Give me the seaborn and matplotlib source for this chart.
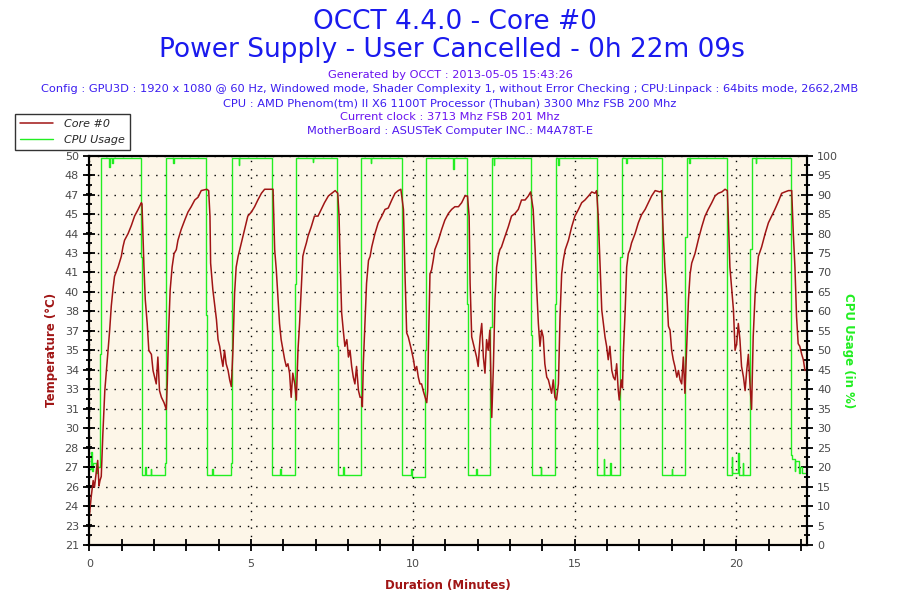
import matplotlib
matplotlib.use("Agg")
import matplotlib.pyplot as plt
from matplotlib.ticker import MultipleLocator
import numpy as np
import seaborn as sns

# Core #0 temperature (deg C)
temp_minutes = [0.00, 0.06, 0.12, 0.16, 0.22, 0.26, 0.30, 0.33, 0.37, 0.42, 0.48, 0.53, 0.58, 0.63,
                0.68, 0.73, 0.78, 0.89, 0.99, 1.04, 1.09, 1.20, 1.30, 1.40, 1.51, 1.61, 1.63, 1.69,
                1.73, 1.79, 1.84, 1.92, 1.97, 2.02, 2.07, 2.12, 2.17, 2.23, 2.31, 2.38, 2.41, 2.45,
                2.50, 2.56, 2.62, 2.69, 2.74, 2.84, 2.95, 3.05, 3.15, 3.26, 3.36, 3.46, 3.63, 3.69,
                3.73, 3.75, 3.82, 3.87, 3.93, 3.98, 4.03, 4.08, 4.13, 4.18, 4.23, 4.29, 4.34, 4.39,
                4.44, 4.49, 4.54, 4.60, 4.70, 4.80, 4.90, 5.01, 5.11, 5.21, 5.32, 5.42, 5.68, 5.73,
                5.78, 5.83, 5.88, 5.93, 5.99, 6.04, 6.09, 6.14, 6.19, 6.24, 6.29, 6.35, 6.40, 6.45,
                6.50, 6.55, 6.60, 6.65, 6.71, 6.76, 6.86, 6.96, 7.07, 7.17, 7.27, 7.39, 7.60, 7.68,
                7.72, 7.75, 7.80, 7.85, 7.90, 7.96, 8.01, 8.06, 8.11, 8.16, 8.21, 8.26, 8.32, 8.37,
                8.42, 8.44, 8.47, 8.52, 8.57, 8.63, 8.68, 8.73, 8.78, 8.83, 8.93, 9.04, 9.14, 9.24,
                9.35, 9.45, 9.55, 9.63, 9.71, 9.76, 9.81, 9.86, 9.91, 9.96, 10.02, 10.07, 10.12, 10.17,
                10.22, 10.27, 10.32, 10.38, 10.43, 10.46, 10.48, 10.53, 10.58, 10.63, 10.68, 10.79,
                10.89, 10.99, 11.10, 11.20, 11.30, 11.41, 11.51, 11.61, 11.69, 11.74, 11.77, 11.82,
                11.87, 11.92, 11.97, 12.02, 12.08, 12.13, 12.18, 12.23, 12.28, 12.33, 12.38, 12.44,
                12.49, 12.54, 12.59, 12.64, 12.69, 12.74, 12.85, 12.95, 13.05, 13.16, 13.26, 13.36,
                13.47, 13.57, 13.64, 13.72, 13.78, 13.83, 13.88, 13.93, 13.98, 14.03, 14.08, 14.14,
                14.19, 14.24, 14.29, 14.34, 14.39, 14.44, 14.50, 14.55, 14.60, 14.65, 14.71, 14.81,
                14.91, 15.01, 15.12, 15.22, 15.32, 15.43, 15.53, 15.63, 15.68, 15.73, 15.79, 15.84,
                15.89, 15.94, 15.99, 16.04, 16.09, 16.15, 16.20, 16.25, 16.30, 16.35, 16.38, 16.44,
                16.48, 16.51, 16.56, 16.61, 16.66, 16.71, 16.76, 16.87, 16.97, 17.07, 17.18, 17.28,
                17.38, 17.49, 17.64, 17.69, 17.74, 17.79, 17.85, 17.90, 17.95, 18.00, 18.05, 18.10,
                18.16, 18.21, 18.26, 18.31, 18.36, 18.41, 18.46, 18.52, 18.57, 18.62, 18.72, 18.83,
                18.93, 19.03, 19.13, 19.24, 19.34, 19.44, 19.55, 19.65, 19.72, 19.75, 19.80, 19.86,
                19.91, 19.96, 20.01, 20.06, 20.11, 20.16, 20.22, 20.27, 20.32, 20.37, 20.42, 20.47,
                20.52, 20.58, 20.63, 20.68, 20.78, 20.89, 20.99, 21.09, 21.19, 21.30, 21.40, 21.50,
                21.61, 21.71, 21.76, 21.81, 21.86, 21.91, 21.96, 22.02, 22.07, 22.12]
temp_celsius = [23.1, 24.6, 25.8, 25.3, 26.5, 27.3, 25.4, 25.8, 26.1, 29.3, 32.5, 34.0, 35.5, 37.0,
                38.8, 40.0, 41.0, 41.7, 42.5, 43.2, 43.7, 44.2, 44.8, 45.5, 46.0, 46.5, 46.4, 41.7,
                39.3, 37.5, 35.5, 35.2, 34.0, 33.5, 33.0, 35.0, 32.5, 32.0, 31.6, 31.1, 33.0, 36.8,
                40.0, 41.7, 42.7, 43.0, 43.7, 44.5, 45.2, 45.8, 46.2, 46.7, 46.9, 47.4, 47.5, 47.4,
                45.5, 42.0, 40.0, 39.0, 37.8, 36.3, 35.8, 35.0, 34.3, 35.5, 34.5, 34.0, 33.3, 32.8,
                35.5, 39.7, 41.7, 42.5, 43.5, 44.5, 45.5, 45.8, 46.2, 46.7, 47.2, 47.5, 47.5, 43.0,
                41.5, 39.5, 37.5, 36.3, 35.5, 34.8, 34.3, 34.5, 33.8, 32.0, 33.8, 33.0, 31.8, 35.5,
                37.5, 40.0, 42.5, 43.0, 43.5, 44.0, 44.7, 45.5, 45.5, 46.0, 46.5, 47.0, 47.4, 47.2,
                45.5, 42.5, 38.3, 37.0, 35.8, 36.3, 35.0, 35.5, 34.3, 33.5, 33.0, 34.3, 32.5, 32.0,
                32.0, 31.3, 34.5, 37.5, 40.5, 42.2, 42.5, 43.2, 43.7, 44.2, 45.0, 45.5, 46.0, 46.1,
                46.7, 47.2, 47.4, 47.5, 46.0, 41.0, 36.8, 36.5, 36.0, 35.5, 34.8, 34.0, 34.3, 33.5,
                33.0, 33.0, 32.5, 32.0, 31.6, 32.5, 35.5, 41.2, 41.5, 42.2, 43.0, 43.7,
                44.5, 45.2, 45.7, 46.0, 46.2, 46.2, 46.5, 47.0, 47.0, 45.5, 40.5, 36.5,
                36.0, 35.5, 35.0, 34.3, 36.5, 37.5, 35.0, 33.8, 36.3, 35.5, 37.0, 30.5,
                34.3, 39.3, 41.7, 42.5, 43.0, 43.2, 44.0, 44.7, 45.5, 45.7, 46.0, 46.7,
                46.7, 47.0, 47.3, 46.0, 43.0, 40.0, 37.5, 35.8, 37.0, 36.5, 34.5, 33.5,
                33.3, 32.8, 32.3, 33.3, 32.0, 31.8, 33.0, 38.0, 41.2, 42.2, 43.0, 43.7,
                44.7, 45.5, 46.0, 46.5, 46.7, 47.0, 47.3, 47.2, 47.4, 45.5, 41.7, 38.5,
                37.5, 36.5, 35.8, 34.8, 35.8, 34.0, 33.5, 33.3, 34.5, 32.5, 31.8, 33.3,
                32.7, 35.5, 38.3, 41.7, 42.7, 43.0, 43.5, 44.2, 45.0, 45.6, 46.0, 46.5,
                47.0, 47.4, 47.3, 47.4, 44.2, 41.7, 39.7, 37.3, 37.0, 35.5, 34.8, 34.3,
                33.5, 34.0, 33.3, 33.0, 35.0, 32.3, 35.5, 39.3, 41.2, 42.0, 42.7, 43.8,
                44.7, 45.5, 46.0, 46.5, 47.0, 47.2, 47.3, 47.5, 47.4, 45.5, 41.7, 40.0,
                38.5, 35.5, 36.0, 37.5, 36.3, 34.3, 33.5, 32.5, 34.0, 35.2, 33.0, 31.1,
                36.5, 39.7, 41.2, 42.5, 43.2, 44.2, 45.0, 45.5, 46.0, 46.6, 47.2, 47.3,
                47.4, 47.4, 44.2, 41.7, 38.0, 36.0, 35.8, 35.2, 34.8, 34.0]

# CPU usage (%), each value holds until the next time stamp
cpu_minutes = [0.00, 0.06, 0.08, 0.12, 0.20, 0.24, 0.33, 0.37, 0.62, 0.64, 0.70, 0.72,
               1.61, 1.63, 1.72, 1.74, 1.90, 1.92, 2.35, 2.37, 2.60, 2.62,
               3.62, 3.65, 3.80, 3.82, 4.37, 4.40, 4.62, 4.64,
               5.64, 5.66, 5.90, 5.92, 6.37, 6.40, 6.90, 6.92,
               7.65, 7.68, 7.85, 7.87, 8.39, 8.41, 8.70, 8.72,
               9.66, 9.68, 9.95, 9.97, 10.38, 10.42, 11.24, 11.26,
               11.67, 11.70, 11.95, 11.97, 12.40, 12.44, 12.50, 12.52,
               13.66, 13.69, 13.95, 13.97, 14.40, 14.44, 14.50, 14.52,
               15.68, 15.69, 15.90, 15.92, 16.10, 16.12, 16.40, 16.45, 16.60, 16.62,
               17.69, 17.71, 18.00, 18.02, 18.41, 18.46, 18.55, 18.57,
               19.70, 19.72, 19.85, 19.87, 20.05, 20.07, 20.20, 20.22, 20.42, 20.47, 20.60, 20.62,
               21.70, 21.73, 21.80, 21.82, 21.95, 21.97, 22.04, 22.12]
cpu_percent = [19.5, 24.0, 19.0, 21.0, 18.5, 20.0, 49.0, 99.5, 97.0, 99.5, 98.0, 99.5,
               74.0, 18.0, 20.0, 18.0, 19.5, 18.0, 21.0, 99.5, 98.0, 99.5,
               59.0, 18.0, 19.5, 18.0, 21.0, 99.5, 97.5, 99.5,
               48.0, 18.0, 19.5, 18.0, 67.0, 99.5, 98.5, 99.5,
               51.0, 18.0, 20.0, 18.0, 64.0, 99.5, 98.0, 99.5,
               69.0, 18.0, 19.5, 17.5, 50.0, 99.5, 96.5, 99.5,
               62.0, 18.0, 19.5, 18.0, 56.0, 99.5, 97.5, 99.5,
               54.0, 18.0, 20.0, 18.0, 62.0, 99.5, 97.5, 99.5,
               35.0, 18.0, 22.0, 18.0, 21.0, 18.0, 74.0, 99.5, 98.0, 99.5,
               34.0, 18.0, 19.5, 18.0, 79.0, 99.5, 98.0, 99.5,
               25.0, 18.0, 22.5, 18.5, 23.5, 18.0, 21.0, 18.0, 76.0, 99.5, 98.0, 99.5,
               23.0, 22.0, 19.0, 21.5, 18.5, 20.0, 18.5, 18.5]

temp_tick_labels = ["21", "23", "24", "26", "27", "28", "30", "31", "33", "34", "35",
                    "37", "38", "40", "41", "43", "44", "45", "47", "48", "50"]

title_lines = ["OCCT 4.4.0 - Core #0", "Power Supply - User Cancelled - 0h 22m 09s"]
info_lines = [
    "Generated by OCCT : 2013-05-05 15:43:26",
    "Config : GPU3D : 1920 x 1080 @ 60 Hz, Windowed mode, Shader Complexity 1, without Error Checking ; CPU:Linpack : 64bits mode, 2662,2MB",
    "CPU : AMD Phenom(tm) II X6 1100T Processor (Thuban) 3300 Mhz FSB 200 Mhz",
    "Current clock : 3713 Mhz FSB 201 Mhz",
    "MotherBoard : ASUSTeK Computer INC.: M4A78T-E",
]
info_colors = ["#6a12f0", "#3a1cf0", "#3a1cf0", "#6a12f0", "#5016f0"]

red = "#a01515"
green = "#22ee22"
tick_gray = "#4a4a4a"

sns.set_theme(style="white")
plt.rcParams["font.family"] = ["DejaVu Sans"]

fig = plt.figure(figsize=(9, 6), dpi=100)
ax = fig.add_axes([0.0992, 0.0917, 0.797, 0.6488])
ax2 = ax.twinx()

sns.lineplot(x=cpu_minutes, y=cpu_percent, ax=ax2, color=green, linewidth=1.0,
             drawstyle="steps-post", legend=False)
sns.lineplot(x=temp_minutes, y=temp_celsius, ax=ax, color=red, linewidth=1.1,
             legend=False, sort=False)

# temperature line drawn above the cpu line
ax.set_zorder(2)
ax.patch.set_visible(False)
ax2.set_zorder(1)
ax2.patch.set_visible(True)
ax2.patch.set_facecolor("#fdf6e8")

ax.set_xlim(0, 22.17)
ax.set_ylim(21, 50)
ax2.set_ylim(0, 100)

ax.set_yticks(np.linspace(21, 50, 21))
ax.set_yticklabels(temp_tick_labels)
ax.yaxis.set_minor_locator(MultipleLocator(1.45 / 2))
ax2.yaxis.set_major_locator(MultipleLocator(5))
ax2.yaxis.set_minor_locator(MultipleLocator(2.5))
ax.xaxis.set_major_locator(MultipleLocator(5))
ax.xaxis.set_minor_locator(MultipleLocator(1))

for a in (ax, ax2):
    a.tick_params(which="major", direction="inout", length=8, width=1.3, colors="black",
                  labelcolor=tick_gray, labelsize=8)
    a.tick_params(which="minor", direction="inout", length=5, width=1.3, colors="black")
    for s in a.spines.values():
        s.set_color("black")
        s.set_linewidth(1.5)
ax.tick_params(axis="x", which="minor", length=8)
ax.tick_params(axis="y", which="both", left=True, right=False)
ax.tick_params(axis="x", which="both", bottom=True, top=False, pad=6)
ax2.tick_params(axis="y", which="both", right=True, left=False)

# dotted grid
ax2.grid(True, axis="y", color="black", linestyle=(0, (1, 5)), linewidth=1)
ax.grid(True, axis="x", color="black", linestyle=(0, (1, 5)), linewidth=1)

ax.set_xlabel("Duration (Minutes)", color=red, fontweight="bold", fontsize=8.5, labelpad=7)
ax.set_ylabel("Temperature (°C)", color=red, fontweight="bold", fontsize=8.5, labelpad=5)
ax2.set_ylabel("CPU Usage (in %)", color=green, fontweight="bold", fontsize=8.5,
               rotation=270, labelpad=12)

fig.text(0.505, 0.963, title_lines[0], ha="center", va="center", color="#1a1aee", fontsize=19)
fig.text(0.502, 0.916, title_lines[1], ha="center", va="center", color="#1a1aee", fontsize=19)
for i, (line, c) in enumerate(zip(info_lines, info_colors)):
    fig.text(0.5, 0.875 - i * 0.0235, line, ha="center", va="center", color=c, fontsize=8.2)

handles = [ax.lines[0], ax2.lines[0]]
leg = fig.legend(handles, ["Core #0", "CPU Usage"], loc="upper left",
                 bbox_to_anchor=(15 / 900, 1 - 114 / 600), frameon=True, fancybox=False,
                 edgecolor="black", fontsize=8, handlelength=3.0, borderpad=0.45,
                 labelspacing=0.55, handletextpad=1.0, borderaxespad=0)
leg.get_frame().set_linewidth(1)
for t in leg.get_texts():
    t.set_fontstyle("italic")

fig.savefig("out.png", dpi=100, facecolor="white")
